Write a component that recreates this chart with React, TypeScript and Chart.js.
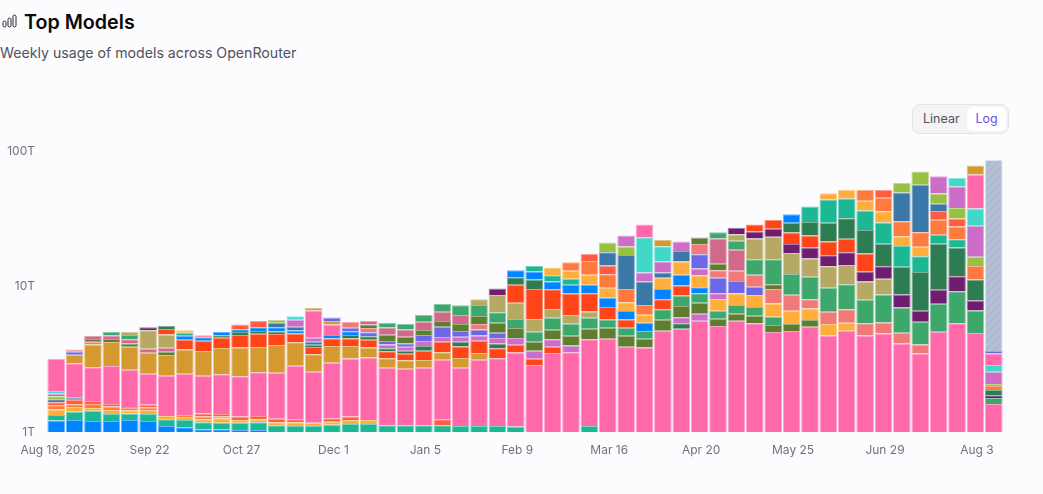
import React, { useEffect, useRef } from 'react';
import { Chart, registerables } from 'chart.js';

Chart.register(...registerables);

// --- data ---
const weeks = [
  'Aug 18, 2025', 'Aug 25', 'Sep 1', 'Sep 8', 'Sep 15', 'Sep 22', 'Sep 29', 'Oct 6', 'Oct 13', 'Oct 20',
  'Oct 27', 'Nov 3', 'Nov 10', 'Nov 17', 'Nov 24', 'Dec 1', 'Dec 8', 'Dec 15', 'Dec 22', 'Dec 29',
  'Jan 5', 'Jan 12', 'Jan 19', 'Jan 26', 'Feb 2', 'Feb 9', 'Feb 16', 'Feb 23', 'Mar 2', 'Mar 9',
  'Mar 16', 'Mar 23', 'Mar 30', 'Apr 6', 'Apr 13', 'Apr 20', 'Apr 27', 'May 4', 'May 11', 'May 18',
  'May 25', 'Jun 1', 'Jun 8', 'Jun 15', 'Jun 22', 'Jun 29', 'Jul 6', 'Jul 13', 'Jul 20', 'Jul 27',
  'Aug 3', 'Aug 10',
];

// one letter per segment, bottom to top, see palette
const stackKeys = [
  'btacskloqp', 'btacskpgvm', 'btacspgmne', 'btacspgnef', 'btacspgnefh', 'btacspgehu',
  'btapgnehrd', 'btacpgrbta', 'btacspgrbm', 'btacspgrdb', 'btaspgrdbs', 'btaspgrdbs',
  'taspgrdbkl', 'taspgrbkoq', 'tapgrdkopg', 'taspgrbpgv', 'taspgrdbvm', 'tapgrdvmne',
  'tpgrdovnef', 'tpgrdovnef', 'tpgrdovnef', 'tspgrovnef', 'tpgrdovnef', 'tpgrovmnfh',
  'tprdovnfhu', 'tpronfhrdb', 'pronfhrdbt', 'pronfhrbta', 'ponfhrbtac', 'tpnfhrbacs',
  'pnfrbacskl', 'pnfrbacklo', 'pnfbackoqp', 'pnfrbakoqg', 'pdonfrbako', 'ponfbaovmn',
  'pnfaovmnef', 'pnfavmefhu', 'pnfavmfhur', 'pnfamnfhur', 'pnamfhurdb', 'pnamfhurdt',
  'pamfhurdta', 'pamfhurdta', 'pmfhurdtac', 'pmfhudtacs', 'pmfudtackl', 'pmfudtackl',
  'pfudtcsklo', 'pfudtcsloq', 'pfudcloqpg', 'pfudcloqpvX',
];

// cumulative top of each segment, in trillions of tokens
const stackTops = [
  [1.01, 1.11, 1.22, 1.31, 1.38, 1.45, 1.53, 1.6, 1.67, 2.89],
  [1.02, 1.17, 1.27, 1.33, 1.44, 1.49, 2.68, 3.1, 3.26, 3.39],
  [1.0, 1.19, 1.25, 1.34, 1.41, 2.5, 3.69, 3.87, 4.05, 4.27],
  [1.0, 1.13, 1.21, 1.28, 1.34, 2.56, 3.85, 4.05, 4.31, 4.56],
  [1.02, 1.14, 1.2, 1.25, 1.27, 2.4, 3.55, 3.76, 4.03, 4.34, 4.59],
  [1.0, 1.13, 1.21, 1.26, 1.32, 2.24, 3.2, 3.43, 4.7, 4.95],
  [0.92, 1.03, 1.09, 2.17, 3.08, 3.26, 3.49, 4.38, 4.8, 5.05],
  [0.9, 1.02, 1.07, 1.11, 2.24, 3.39, 4.0, 4.29, 4.5, 4.7],
  [0.87, 0.98, 1.03, 1.08, 1.14, 2.17, 3.31, 3.94, 4.18, 4.32],
  [0.87, 0.97, 1.05, 1.08, 1.13, 2.22, 3.47, 4.14, 4.32, 4.56],
  [0.86, 0.97, 1.02, 1.08, 2.15, 3.5, 4.34, 4.56, 4.78, 5.2],
  [0.86, 0.98, 1.03, 1.09, 2.3, 3.53, 4.44, 4.64, 4.95, 5.5],
  [0.93, 0.98, 1.04, 2.28, 3.66, 4.41, 4.61, 4.96, 5.35, 5.6],
  [0.92, 0.98, 1.03, 2.57, 3.83, 4.46, 4.69, 5.0, 5.63, 5.97],
  [0.92, 0.97, 2.32, 3.12, 3.53, 3.67, 3.87, 4.14, 6.6, 6.88],
  [0.94, 0.99, 1.05, 2.7, 3.6, 4.09, 4.34, 5.2, 5.5, 5.85],
  [0.95, 1.02, 1.08, 2.91, 3.6, 4.09, 4.34, 4.62, 4.91, 5.44],
  [0.95, 1.02, 2.96, 3.51, 4.0, 4.24, 4.54, 4.88, 5.2, 5.53],
  [0.93, 2.48, 2.92, 3.29, 3.46, 3.69, 3.91, 4.35, 4.93, 5.35],
  [0.93, 2.44, 2.82, 3.15, 3.32, 3.55, 3.76, 4.21, 4.77, 5.24],
  [0.93, 2.48, 2.83, 3.32, 3.6, 3.91, 4.34, 4.72, 5.44, 6.1],
  [0.93, 1.03, 2.85, 3.24, 3.87, 4.19, 5.0, 5.5, 6.45, 7.35],
  [0.92, 2.48, 2.93, 3.57, 3.87, 4.21, 4.64, 5.24, 6.1, 7.2],
  [0.92, 2.85, 3.19, 3.94, 4.31, 4.77, 5.24, 6.0, 7.23, 7.97],
  [0.92, 2.92, 3.46, 3.76, 4.12, 4.51, 5.35, 6.4, 8.57, 9.6],
  [0.91, 3.22, 3.67, 4.12, 4.88, 5.7, 7.52, 10.2, 11.6, 13.1],
  [2.6, 2.89, 3.32, 3.87, 4.59, 5.7, 9.5, 11.2, 12.8, 14.1],
  [3.19, 3.55, 4.03, 4.75, 5.82, 6.75, 9.45, 10.8, 12.0, 13.7],
  [3.24, 3.63, 4.29, 5.25, 6.1, 8.8, 10.2, 11.3, 13.0, 15.0],
  [0.92, 4.03, 4.83, 5.82, 6.49, 8.85, 10.2, 12.1, 15.3, 17.3],
  [4.07, 4.9, 5.66, 7.0, 8.2, 9.7, 12.2, 14.2, 17.8, 21],
  [3.55, 4.29, 4.9, 5.66, 6.54, 7.6, 9.5, 17, 19.6, 23.7],
  [3.51, 4.07, 4.64, 5.35, 6.12, 7.23, 10.8, 12.6, 23, 28.5],
  [4.66, 5.63, 6.72, 7.97, 9.5, 11.5, 12.6, 15.2, 19.7, 21.9],
  [4.83, 5.3, 5.87, 7.1, 8.5, 10.1, 12.1, 15.2, 18.2, 21.4],
  [5.53, 6.23, 7.52, 8.85, 9.8, 12.0, 13.5, 17.2, 20.5, 22.9],
  [5.05, 5.72, 6.57, 8.0, 8.85, 11.5, 13.1, 14.6, 22.5, 25],
  [5.53, 6.23, 7.23, 8.85, 10.9, 13, 18.6, 21.6, 24.2, 27],
  [5.3, 6.03, 7.0, 8.57, 9.9, 12.1, 15.8, 22.5, 25.3, 28.5],
  [4.56, 5.14, 5.93, 7.43, 9.5, 10.3, 15.8, 23.2, 26.6, 30.8],
  [4.64, 5.24, 6.57, 8.62, 12.3, 17.6, 20.5, 24.9, 29.4, 34],
  [5.0, 5.6, 6.82, 7.97, 11.7, 16, 19.3, 23.7, 29.8, 38.8],
  [4.31, 5.24, 6.45, 9.7, 14, 16.9, 21.4, 29.4, 43.8, 48.7],
  [4.66, 5.35, 6.72, 10.3, 14.3, 17.8, 22.4, 31.8, 44.4, 51.4],
  [4.31, 5.3, 7.93, 10.8, 12.8, 17.4, 26, 36.2, 42.8, 51.4],
  [4.45, 5.38, 8.65, 11.3, 14, 20.6, 29.6, 35.8, 45, 51.4],
  [3.76, 4.51, 6.93, 8.65, 13.9, 19.8, 23.4, 30.2, 49.3, 58],
  [3.17, 3.69, 5.44, 6.57, 12.7, 16.6, 19.5, 25, 56.3, 70.5],
  [4.59, 7.4, 9.4, 20.6, 24, 31, 36, 40.7, 48.4, 65],
  [5.3, 9.15, 11.8, 19.3, 22.2, 27.6, 31.6, 37.8, 54.5, 63],
  [4.49, 6.6, 7.8, 11.2, 14.1, 16.5, 28, 37.5, 67, 78],
  [1.34, 1.48, 1.55, 1.7, 1.82, 1.88, 2.32, 2.6, 3.17, 3.3, 85.7],
];

const palette: Record<string, string> = {
  b: '#0084ff', t: '#1cb894', a: '#ffae3b', c: '#ff7a3f', s: '#ff5c42', k: '#3b78a8',
  l: '#97c140', o: '#cc6dc8', q: '#40d9c8', p: '#ff69aa', g: '#d49a30', r: '#ff4518',
  d: '#2e7d52', v: '#6c67e6', m: '#f07a78', n: '#5f7d2e', e: '#d0698a', f: '#3ea76c',
  h: '#b5a964', u: '#6f1d6f',
};

const yTicks = [0.83, 10, 100];
const yTickLabels = ['1T', '10T', '100T'];

// striped fill of the week that is still running
function makeHatch() {
  const c = document.createElement('canvas');
  c.width = 8;
  c.height = 8;
  const g = c.getContext('2d')!;
  g.fillStyle = '#b4c0d3';
  g.fillRect(0, 0, 8, 8);
  g.strokeStyle = '#a9b6cb';
  g.lineWidth = 1.5;
  g.beginPath();
  g.moveTo(-2, 10); g.lineTo(10, -2);
  g.moveTo(-2, 2); g.lineTo(2, -2);
  g.moveTo(6, 10); g.lineTo(10, 6);
  g.stroke();
  return g.createPattern(c, 'repeat')!;
}

export default function App() {
  const canvasRef = useRef<HTMLCanvasElement>(null);

  useEffect(() => {
    document.body.style.margin = '0';
    const ctx = canvasRef.current?.getContext('2d');
    if (!ctx) return;

    const hatch = makeHatch();
    const layers = Math.max(...stackKeys.map((k) => k.length));
    const datasets = [];
    for (let i = 0; i < layers; i++) {
      datasets.push({
        data: stackTops.map((tops) => (i < tops.length ? tops[i] - (i > 0 ? tops[i - 1] : 0) : null)),
        backgroundColor: stackKeys.map((k) => (k[i] === 'X' ? hatch : palette[k[i]] ?? 'transparent')),
        borderColor: stackKeys.map((k) => (k[i] === 'X' ? '#dfe4ec' : (palette[k[i]] ?? '#ffffff') + '99')),
        borderWidth: 1,
        barPercentage: 0.96,
        categoryPercentage: 1,
      });
    }

    const chart = new Chart(ctx, {
      type: 'bar',
      data: { labels: weeks, datasets },
      options: {
        animation: false,
        responsive: false,
        layout: { padding: { top: 151, right: 40 } },
        plugins: { legend: { display: false }, tooltip: { enabled: false } },
        scales: {
          x: {
            stacked: true,
            afterFit: (s: any) => { s.height = 62; },
            grid: { display: false, drawTicks: false },
            border: { display: false },
            ticks: {
              autoSkip: false,
              maxRotation: 0,
              padding: 11,
              labelOffset: 1.5,
              color: '#71717a',
              font: { family: 'Inter', size: 12 },
              callback: (_v: any, i: number) => (i % 5 === 0 ? weeks[i] : ''),
            },
          },
          y: {
            type: 'logarithmic',
            stacked: true,
            min: yTicks[0],
            max: yTicks[2],
            afterFit: (s: any) => { s.width = 47; },
            afterBuildTicks: (s: any) => { s.ticks = yTicks.map((value) => ({ value })); },
            grid: { display: false, drawTicks: false },
            border: { display: false },
            ticks: {
              padding: 12,
              color: '#71717a',
              font: { family: 'Inter', size: 12 },
              callback: (v: any) => yTickLabels[yTicks.indexOf(Number(v))],
            },
          },
        },
      },
    });
    return () => chart.destroy();
  }, []);

  return (
    <div style={{ position: 'fixed', inset: 0, background: '#fcfcff', overflow: 'hidden', fontFamily: 'Inter' }}>
      <svg width="16" height="16" viewBox="0 0 16 16" style={{ position: 'absolute', left: 1, top: 13 }} fill="none" stroke="#27272a" strokeWidth="1">
        <rect x="2" y="8" width="3" height="6" rx="1.5" />
        <rect x="7" y="5" width="3" height="9" rx="1.5" />
        <rect x="12" y="2" width="3" height="12" rx="1.5" />
      </svg>
      <div style={{ position: 'absolute', left: 24, top: 8, fontSize: 19.7, lineHeight: '28px', fontWeight: 600, color: '#09090b' }}>Top Models</div>
      <div style={{ position: 'absolute', left: 0, top: 43, fontSize: 14.15, lineHeight: '20px', color: '#52525b' }}>Weekly usage of models across OpenRouter</div>
      <canvas ref={canvasRef} width={1043} height={494} style={{ position: 'absolute', left: 0, top: 0, display: 'block' }} />
      <div style={{ position: 'absolute', left: 912, top: 104, width: 97, height: 30, boxSizing: 'border-box', background: '#f4f4f5', border: '1px solid #e4e4e7', borderRadius: 8, fontSize: 12.5, lineHeight: '24px' }}>
        <span style={{ position: 'absolute', left: 10, top: 2, color: '#52525b' }}>Linear</span>
        <span style={{ position: 'absolute', left: 54, top: 2, width: 39, height: 24, background: '#ffffff', borderRadius: 6, textAlign: 'center', color: '#6d4fe8' }}>Log</span>
      </div>
    </div>
  );
}
